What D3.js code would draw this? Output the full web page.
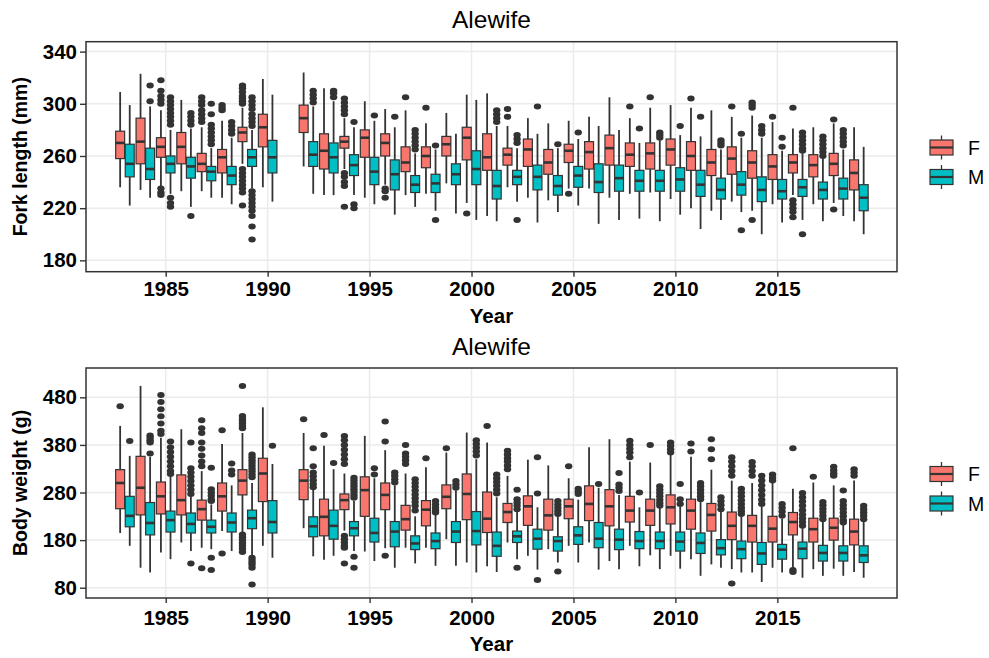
<!DOCTYPE html>
<html>
<head>
<meta charset="utf-8">
<script src="https://cdn.jsdelivr.net/npm/d3@7"></script>
<style>
body { margin: 0; background: #fff; }
text { font-family: Arial, "Liberation Sans", sans-serif; }
</style>
</head>
<body>
<div id="chart"></div>
<script>
// years sampled (no 1991)
var years = [1983,1984,1985,1986,1987,1988,1989,1990,
  1992,1993,1994,1995,1996,1997,1998,1999,2000,2001,
  2002,2003,2004,2005,2006,2007,2008,2009,2010,2011,
  2012,2013,2014,2015,2016,2017,2018,2019];

var sexes = ["F", "M"];
var xTicks = [1985, 1990, 1995, 2000, 2005, 2010, 2015];
var forkTicks = [180, 220, 260, 300, 340];
var weightTicks = [80, 180, 280, 380, 480];

// each row: [lower whisker, q1, median, q3, upper whisker]
// fork length (mm), females
var forkF = [
  [236,258,270,279,309],[234,254,271,289,323],[237,259,267,274,295],[233,254,267,278,303],
  [233,248,254,262,282],[228,247,259,265,287],[254,271,278,282,297],[236,267,282,292,319],
  [252,278,289,299,324],[230,250,264,277,312],[250,266,271,275,289],[228,259,274,280,302],
  [238,260,270,277,296],[230,248,255,267,295],[231,251,260,267,285],[239,260,269,275,293],
  [224,257,274,282,307],[214,249,259,277,308],
  [236,253,261,266,283],[228,252,265,273,289],[226,246,255,265,285],[235,255,264,269,287],
  [235,250,263,271,290],[228,253,266,276,305],[231,252,261,270,289],[232,250,262,270,297],
  [227,253,265,273,299],[220,249,260,271,297],
  [218,245,255,265,295],[225,246,258,267,290],[218,243,255,264,291],[223,242,252,261,286],
  [230,247,255,261,281],[223,244,253,261,282],[224,245,254,262,285],[210,234,247,257,282]
];
var forkFOut = [
  [],[],[318,310,306,303,300,235,232,230],[],[305,302,299,295,292,289,286],[299,297,295],
  [314,312,309,306,304,302,300,250,247,244,241,238,235,232,222],[],
  [],[],[304,301,298,295,292,247,244,240,237,221],[],[235,233,228],[305],[297],[],[216],[],
  [296,290],[],[],[231],[],[],[298],[305],[],[304],
  [],[298],[301,299,297,211],[290],[297,226,223,220,217,213],[],[288,219],[]
];
// fork length (mm), males
var forkM = [
  [222,244,254,269,299],[228,242,250,266,298],[231,247,254,260,280],[221,243,252,259,281],
  [228,241,248,252,266],[223,238,245,252,274],[235,252,259,265,280],[225,247,259,272,307],
  [231,252,261,271,298],[230,247,259,270,302],[230,245,253,261,282],[223,238,248,259,287],
  [215,234,246,257,282],[221,232,238,245,262],[218,232,239,246,265],[216,238,246,254,277],
  [211,238,250,264,303],[210,227,237,249,283],
  [225,238,244,249,266],[209,234,244,253,277],[217,230,237,245,266],[222,236,245,252,273],
  [208,232,240,254,283],[211,233,243,253,280],[212,233,241,249,270],[210,233,241,249,272],
  [215,233,242,251,276],[204,229,238,249,275],
  [211,227,234,243,265],[217,230,238,248,274],[200,225,234,244,274],[209,227,233,242,264],
  [211,229,236,242,262],[210,227,234,240,258],[214,227,235,243,265],[200,218,228,238,267]
];
var forkMOut = [
  [],[314,302],[305,302,299,296,293,290,287,284,228,224,221],[293,290,287,284,214],
  [300,292,284,281,278,275,272,269],[286,283,280,277],
  [305,302,299,296,292,289,286,283,233,230,227,224,221,218,214,206,196],[],
  [310,307,304,301],[310,308,305],[286,223,220],[291],[290],[280,277,274,271,268,265],
  [268,211],[],[],[295,292,289,286],
  [276,273,270,211],[298],[269],[278],[],[],[281],[278,276,274],[283],[290],
  [272,270,268],[277,203],[283,280,277],[274,267],[278,275,272,269,266,264,200],
  [275,272,269,266,263,260],[280,277,274,271,268],[]
];
// body weight (g), females
var weightF = [
  [195,246,300,328,420],[122,233,290,356,504],[154,235,272,302,395],[175,233,264,317,413],
  [164,222,245,264,325],[199,241,272,300,382],[195,275,305,328,405],[168,261,320,352,459],
  [205,265,305,328,405],[139,189,229,266,378],[200,244,264,277,320],[156,230,285,313,399],
  [163,244,275,300,369],[164,201,224,253,320],[164,210,244,263,333],[182,246,271,296,364],
  [133,223,277,319,406],[125,196,225,281,385],
  [175,217,239,257,315],[147,211,251,273,349],[161,201,232,266,337],[168,225,251,266,310],
  [175,221,256,294,375],[136,210,251,286,392],[168,218,242,272,345],[148,211,242,266,343],
  [147,214,249,275,360],[140,203,242,266,355],
  [129,199,233,257,328],[119,181,210,239,305],[112,176,210,232,300],[122,176,204,230,300],
  [120,191,218,238,288],[119,176,203,226,301],[120,180,206,226,295],[113,170,198,224,305]
];
var weightFOut = [
  [461],[],[485,470,455,440,425,410,403],[],[432,415,405,385,372,358,345,335,121],[411,152],
  [504,441,435,430,425,420,415,192,186,180,174,168,162,155],[],
  [434],[401],[399,390,380,370,360,350,340,189,182,175,168,164,131],[],[429,387,147],
  [380,362,355,348,340],[352],[373],[],[420],
  [368,360,352,345,337,329],[],[],[335],[],[],[389,380,372,364,354],[380],[385,378,371,364],[383,366],
  [392,371,350],[354,345,335,325,315,89],[344,335,325,315],[318,311,305],[373,117,113],[313],
  [334,327,320,315],[329,322,315]
];
// body weight (g), males
var weightM = [
  [168,208,231,272,357],[112,191,216,259,355],[140,197,222,241,315],[157,195,214,237,275],
  [161,195,208,222,255],[157,197,217,237,295],[147,204,226,243,300],[143,195,218,263,340],
  [146,187,209,229,290],[147,182,210,243,329],[157,189,205,219,262],[136,176,195,226,310],
  [122,166,198,219,295],[131,160,173,189,230],[126,162,178,195,235],[126,175,198,219,285],
  [112,170,199,240,350],[113,146,168,197,270],
  [140,175,188,199,240],[118,161,183,203,249],[133,157,178,187,230],[133,171,190,208,265],
  [118,164,183,217,290],[119,160,181,203,275],[125,162,178,198,249],[119,162,178,197,250],
  [120,157,177,197,250],[105,152,174,195,260],
  [122,149,163,181,240],[112,141,161,178,232],[92,129,152,175,250],[112,140,160,171,225],
  [101,141,162,176,205],[105,136,153,169,220],[105,136,153,168,212],[101,133,148,168,218]
];
var weightMOut = [
  [388],[400,395,390,385,362],[387,375,365,355,345,335,325,319],
  [385,331,322,313,304,295,286,277,131],[332,287,280,273,266,262,143,117],[341,326,318],
  [360,354,348,342,336,330,324,318,312,143,138,133,128,122,87],[378],
  [373,335,322,314,306,298,291],[342],[311,305,299,293,287,281,275,269,145,122],[331,318],
  [322,315,308,301],[308,300,292,284,276,268,260,252,242],[262,255,248,242,238],[304,297,290],
  [390,382,374,366,358],[318,310,302,294,286,278],
  [286,266,259,252,245,122],[354,278,96],[262,255,248,241,235,114],[288,282,277],[298],
  [321,297,290,283],[280],[293,286,279,272,265,258,252],[298,266,256],[300,293,286,279,272,266],
  [270,262,254,245],[288,280,272,264,256,248,241,235],[315,305,295,285,275,265,256],
  [256,248,240,231],[279,270,261,252,243,234,226,218,210],[260,253,246,239,231,224],
  [284,262,254,246,238,230,222,217],[252,245,238,231,224]
];

var W = 989, H = 658;
var fills = { F: "#F8766D", M: "#00BFC4" };
var dodge = { F: -0.235, M: 0.235 };
var boxW = 0.44; // box width in years
var ink = "#333333";

var svg = d3.select("#chart").append("svg")
  .attr("width", W)
  .attr("height", H);
svg.append("rect").attr("width", W).attr("height", H).attr("fill", "#fff");

// shared x scale, panel spans x 86..897
var left = 86, right = 897;
var x = d3.scaleLinear().domain([1981.09, 2020.87]).range([left, right]);

function drawPanel(p) {
  var g = svg.append("g");
  var y = d3.scaleLinear().domain(p.yDomain).range([p.bottom, p.top]);

  // grid
  g.selectAll(".hgrid").data(p.yTicks).enter().append("line")
    .attr("x1", left).attr("x2", right)
    .attr("y1", function(d) { return y(d); })
    .attr("y2", function(d) { return y(d); })
    .attr("stroke", "#ebebeb").attr("stroke-width", 1.5);
  g.selectAll(".vgrid").data(xTicks).enter().append("line")
    .attr("y1", p.top).attr("y2", p.bottom)
    .attr("x1", function(d) { return x(d); })
    .attr("x2", function(d) { return x(d); })
    .attr("stroke", "#ebebeb").attr("stroke-width", 1.5);

  // boxes, one group per year and sex
  var rows = [];
  years.forEach(function(yr, i) {
    sexes.forEach(function(s) {
      rows.push({ year: yr, sex: s, st: p.stats[s][i], out: p.outliers[s][i] });
    });
  });

  var bw = x(boxW) - x(0);
  var boxes = g.selectAll(".box").data(rows).enter().append("g").attr("class", "box");

  boxes.each(function(d) {
    var b = d3.select(this);
    var cx = x(d.year + dodge[d.sex]);
    b.selectAll("ellipse").data(d.out).enter().append("ellipse")
      .attr("cx", cx)
      .attr("cy", function(v) { return y(v); })
      .attr("rx", 3.7).attr("ry", 3)
      .attr("fill", ink);
    b.append("line")
      .attr("x1", cx).attr("x2", cx)
      .attr("y1", y(d.st[0])).attr("y2", y(d.st[1]))
      .attr("stroke", ink).attr("stroke-width", 1.8);
    b.append("line")
      .attr("x1", cx).attr("x2", cx)
      .attr("y1", y(d.st[3])).attr("y2", y(d.st[4]))
      .attr("stroke", ink).attr("stroke-width", 1.8);
    b.append("rect")
      .attr("x", cx - bw / 2).attr("width", bw)
      .attr("y", y(d.st[3])).attr("height", y(d.st[1]) - y(d.st[3]))
      .attr("fill", fills[d.sex]).attr("stroke", ink).attr("stroke-width", 1.2);
    b.append("line")
      .attr("x1", cx - bw / 2).attr("x2", cx + bw / 2)
      .attr("y1", y(d.st[2])).attr("y2", y(d.st[2]))
      .attr("stroke", ink).attr("stroke-width", 2.6);
  });

  // panel border
  g.append("rect")
    .attr("x", left).attr("y", p.top)
    .attr("width", right - left).attr("height", p.bottom - p.top)
    .attr("fill", "none").attr("stroke", ink).attr("stroke-width", 1.5);

  // axes
  var ya = g.append("g").attr("transform", "translate(" + left + ",0)")
    .call(d3.axisLeft(y).tickValues(p.yTicks).tickSize(6).tickPadding(3));
  var xa = g.append("g").attr("transform", "translate(0," + p.bottom + ")")
    .call(d3.axisBottom(x).tickValues(xTicks).tickFormat(d3.format("d")).tickSize(5).tickPadding(p.xPad));
  [ya, xa].forEach(function(a) {
    a.select(".domain").remove();
    a.selectAll("line").attr("stroke", ink).attr("stroke-width", 1.4);
    a.selectAll("text")
      .attr("font-size", 20.5).attr("font-weight", "bold").attr("fill", "#000")
      .style("font-family", "Arial, 'Liberation Sans', sans-serif");
  });

  // titles
  g.append("text").attr("x", (left + right) / 2).attr("y", p.titleY)
    .attr("text-anchor", "middle").attr("font-size", 24.5).text("Alewife");
  g.append("text").attr("x", (left + right) / 2).attr("y", p.xLabelY)
    .attr("text-anchor", "middle").attr("font-size", 20.5).attr("font-weight", "bold")
    .text("Year");
  g.append("text")
    .attr("transform", "translate(27," + (p.top + p.bottom) / 2 + ") rotate(-90)")
    .attr("text-anchor", "middle").attr("font-size", 19.5).attr("font-weight", "bold")
    .text(p.yLabel);

  // legend
  var kx0 = 930, kx1 = 953, kc = (kx0 + kx1) / 2;
  sexes.forEach(function(s, i) {
    var cy = p.legendY[i];
    g.append("line").attr("x1", kc).attr("x2", kc)
      .attr("y1", cy - 12).attr("y2", cy + 12)
      .attr("stroke", ink).attr("stroke-width", 1.3);
    g.append("rect").attr("x", kx0).attr("y", cy - 7.5)
      .attr("width", kx1 - kx0).attr("height", 15)
      .attr("fill", fills[s]).attr("stroke", ink).attr("stroke-width", 1.2);
    g.append("line").attr("x1", kx0).attr("x2", kx1)
      .attr("y1", cy).attr("y2", cy)
      .attr("stroke", ink).attr("stroke-width", 2.2);
    g.append("text").attr("x", 968).attr("y", cy + 7)
      .attr("font-size", 19.5).text(s);
  });
}

drawPanel({
  top: 41.7, bottom: 271.7,
  yDomain: [171.3, 347.6], yTicks: forkTicks,
  stats: { F: forkF, M: forkM }, outliers: { F: forkFOut, M: forkMOut },
  titleY: 28, xLabelY: 323, xPad: 5,
  yLabel: "Fork length (mm)", legendY: [147.5, 177]
});

drawPanel({
  top: 368, bottom: 598,
  yDomain: [58.4, 541.6], yTicks: weightTicks,
  stats: { F: weightF, M: weightM }, outliers: { F: weightFOut, M: weightMOut },
  titleY: 355, xLabelY: 651, xPad: 7,
  yLabel: "Body weight (g)", legendY: [474, 503.5]
});
</script>
</body>
</html>
